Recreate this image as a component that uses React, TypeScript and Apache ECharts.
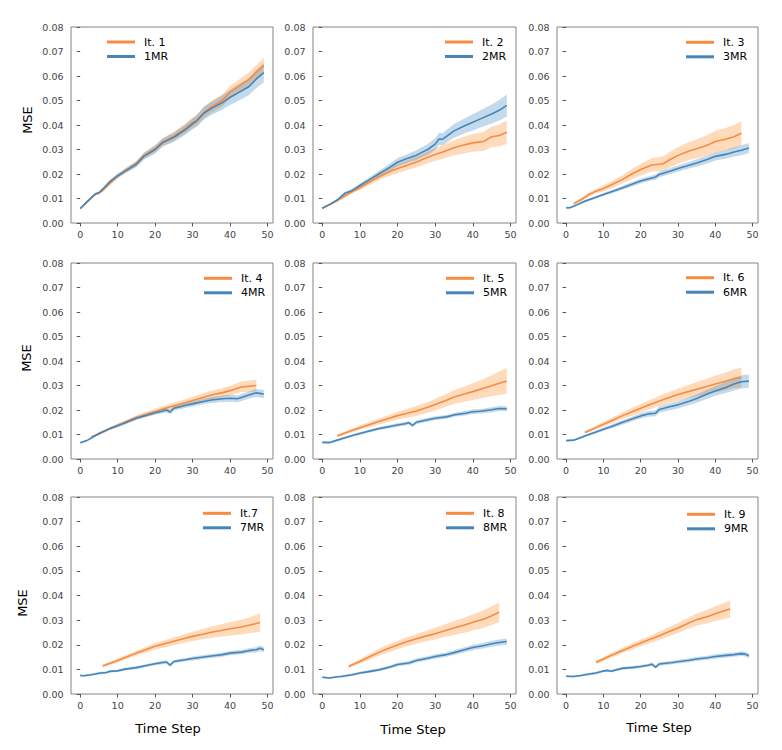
import React, { useEffect, useRef } from "react";
import * as echarts from "echarts";

const FONT = "DejaVu Sans";
const ORANGE = "#f68c42";
const BLUE = "#4785b9";
const ORANGE_BAND = "rgba(255,127,14,0.28)";
const BLUE_BAND = "rgba(31,119,180,0.27)";

const xTicks = [0, 10, 20, 30, 40, 50];
const itLabels = ["It. 1", "It. 2", "It. 3", "It. 4", "It. 5", "It. 6", "It.7", "It. 8", "It. 9"];
const mrLabels = ["1MR", "2MR", "3MR", "4MR", "5MR", "6MR", "7MR", "8MR", "9MR"];

const itSteps = [
  [0, 2, 4, 5, 6, 8, 10, 12, 15, 17, 20, 22, 25, 28, 30, 31, 33, 35, 38, 40, 42, 45, 47, 49],
  [0, 2, 4, 6, 8, 10, 12, 15, 18, 20, 22, 25, 28, 30, 32, 35, 38, 40, 42, 43, 45, 47, 49],
  [2, 4, 6, 8, 10, 12, 15, 18, 20, 23, 25, 26, 28, 30, 33, 35, 38, 40, 43, 45, 47],
  [3, 5, 8, 10, 12, 15, 18, 20, 22, 25, 28, 30, 33, 35, 38, 40, 43, 45, 47],
  [4, 5, 8, 10, 12, 15, 18, 20, 22, 25, 28, 30, 33, 35, 38, 40, 43, 45, 47, 49],
  [5, 8, 10, 12, 15, 18, 20, 22, 25, 28, 30, 33, 35, 38, 40, 43, 45, 47],
  [6, 8, 10, 12, 15, 18, 20, 22, 25, 28, 30, 33, 35, 38, 40, 43, 45, 48],
  [7, 8, 10, 12, 15, 18, 20, 22, 25, 28, 30, 33, 35, 38, 40, 43, 45, 47],
  [8, 10, 12, 15, 18, 20, 22, 25, 28, 30, 33, 35, 38, 40, 42, 44],
];
const itMeans = [
  [0.0059, 0.0088, 0.0117, 0.0122, 0.0133, 0.0163, 0.019, 0.0213, 0.0243, 0.0275, 0.0303, 0.033, 0.0354, 0.0385, 0.041, 0.0418, 0.045, 0.0474, 0.0502, 0.0533, 0.0555, 0.0585, 0.0615, 0.0642],
  [0.006, 0.0075, 0.0092, 0.011, 0.0128, 0.0144, 0.0162, 0.0188, 0.021, 0.0222, 0.0233, 0.0249, 0.0268, 0.028, 0.029, 0.0307, 0.032, 0.0327, 0.0331, 0.0334, 0.0352, 0.0357, 0.037],
  [0.0079, 0.0095, 0.0115, 0.013, 0.0141, 0.0155, 0.0177, 0.0203, 0.0218, 0.0237, 0.024, 0.0242, 0.026, 0.0276, 0.0294, 0.0303, 0.0318, 0.0333, 0.0343, 0.0352, 0.0366],
  [0.0091, 0.0102, 0.0124, 0.0138, 0.015, 0.017, 0.0185, 0.0194, 0.0204, 0.0217, 0.023, 0.0239, 0.0252, 0.0261, 0.0271, 0.0279, 0.0294, 0.0297, 0.03],
  [0.0095, 0.01, 0.0117, 0.0128, 0.0138, 0.0153, 0.0167, 0.0177, 0.0185, 0.0196, 0.0211, 0.0222, 0.024, 0.0253, 0.0266, 0.0275, 0.029, 0.0299, 0.0309, 0.0318],
  [0.0108, 0.0128, 0.0142, 0.0155, 0.0176, 0.0195, 0.0207, 0.0219, 0.0237, 0.0253, 0.0263, 0.0276, 0.0285, 0.0297, 0.0306, 0.0318, 0.0328, 0.0333],
  [0.0114, 0.0125, 0.0136, 0.0148, 0.0166, 0.0183, 0.0194, 0.0202, 0.0214, 0.0226, 0.0234, 0.0244, 0.0251, 0.0259, 0.0265, 0.0272, 0.0279, 0.029],
  [0.0112, 0.0119, 0.0132, 0.0147, 0.0169, 0.0188, 0.0199, 0.021, 0.0224, 0.0237, 0.0245, 0.0259, 0.0268, 0.0281, 0.0291, 0.0305, 0.0318, 0.0332],
  [0.0129, 0.0142, 0.0156, 0.0176, 0.0195, 0.0207, 0.0219, 0.0237, 0.0256, 0.0268, 0.0289, 0.0302, 0.0315, 0.0326, 0.0336, 0.0345],
];
const itSpreads = [
  [0.0003, 0.0004, 0.0005, 0.0005, 0.0006, 0.0007, 0.0008, 0.0009, 0.0011, 0.0013, 0.0015, 0.0016, 0.0018, 0.002, 0.0021, 0.0022, 0.0023, 0.0024, 0.0025, 0.0026, 0.0027, 0.0029, 0.003, 0.0032],
  [0.0003, 0.0004, 0.0005, 0.0006, 0.0008, 0.0009, 0.0011, 0.0014, 0.0017, 0.0019, 0.002, 0.0022, 0.0024, 0.0026, 0.0028, 0.0031, 0.0034, 0.0036, 0.0038, 0.0039, 0.0042, 0.0045, 0.0048],
  [0.0005, 0.0007, 0.0009, 0.001, 0.0012, 0.0014, 0.0017, 0.0021, 0.0024, 0.0027, 0.0029, 0.003, 0.0032, 0.0034, 0.0037, 0.0039, 0.0042, 0.0044, 0.0046, 0.0048, 0.005],
  [0.0005, 0.0005, 0.0006, 0.0007, 0.0008, 0.0009, 0.001, 0.0011, 0.0012, 0.0013, 0.0014, 0.0015, 0.0017, 0.0018, 0.0019, 0.002, 0.0022, 0.0023, 0.0024],
  [0.0006, 0.0006, 0.0008, 0.0009, 0.001, 0.0012, 0.0014, 0.0016, 0.0018, 0.002, 0.0022, 0.0024, 0.0026, 0.0028, 0.0031, 0.0034, 0.0039, 0.0043, 0.0048, 0.0053],
  [0.0006, 0.0008, 0.001, 0.0011, 0.0013, 0.0016, 0.0018, 0.0019, 0.0021, 0.0023, 0.0025, 0.0027, 0.0029, 0.0032, 0.0034, 0.0036, 0.0038, 0.004],
  [0.0006, 0.0007, 0.0008, 0.0009, 0.001, 0.0012, 0.0013, 0.0014, 0.0016, 0.0018, 0.0019, 0.0021, 0.0023, 0.0025, 0.0027, 0.003, 0.0032, 0.0037],
  [0.0006, 0.0007, 0.0009, 0.0011, 0.0014, 0.0016, 0.0017, 0.0018, 0.002, 0.0022, 0.0024, 0.0026, 0.0028, 0.0031, 0.0033, 0.0036, 0.0038, 0.004],
  [0.0007, 0.0008, 0.0009, 0.0011, 0.0013, 0.0014, 0.0015, 0.0017, 0.0019, 0.002, 0.0023, 0.0025, 0.0028, 0.003, 0.0032, 0.0035],
];

const mrSteps = [
  [0, 2, 4, 5, 6, 8, 10, 12, 15, 17, 20, 22, 25, 28, 30, 31, 33, 35, 38, 40, 42, 45, 47, 49],
  [0, 2, 4, 5, 6, 8, 10, 12, 15, 18, 20, 22, 25, 28, 30, 31, 32, 35, 38, 40, 42, 45, 47, 49],
  [0, 1, 3, 5, 8, 10, 12, 15, 18, 20, 22, 24, 25, 28, 30, 33, 35, 38, 40, 43, 45, 47, 49],
  [0, 2, 4, 5, 8, 10, 12, 15, 18, 20, 22, 23, 24, 25, 28, 30, 33, 35, 38, 40, 42, 45, 47, 49],
  [0, 2, 4, 5, 8, 10, 12, 15, 18, 20, 22, 23, 24, 25, 28, 30, 33, 35, 38, 40, 42, 45, 47, 49],
  [0, 2, 4, 5, 8, 10, 12, 15, 18, 20, 22, 24, 25, 28, 30, 33, 35, 38, 40, 43, 45, 47, 49],
  [0, 1, 3, 5, 7, 8, 10, 12, 15, 18, 20, 22, 23, 24, 25, 28, 30, 33, 35, 38, 40, 43, 45, 47, 48, 49],
  [0, 2, 4, 5, 8, 10, 12, 15, 18, 20, 22, 23, 25, 28, 30, 33, 35, 38, 40, 43, 45, 47, 49],
  [0, 2, 4, 5, 8, 10, 11, 12, 15, 18, 20, 22, 23, 24, 25, 28, 30, 33, 35, 38, 40, 43, 45, 47, 48, 49],
];
const mrMeans = [
  [0.0059, 0.0089, 0.0118, 0.0123, 0.0138, 0.017, 0.0193, 0.0212, 0.024, 0.0272, 0.03, 0.0328, 0.035, 0.038, 0.0405, 0.0415, 0.0448, 0.0468, 0.0492, 0.0513, 0.053, 0.0556, 0.0588, 0.0614],
  [0.006, 0.0076, 0.0094, 0.0108, 0.0121, 0.0133, 0.0153, 0.0172, 0.02, 0.0228, 0.0248, 0.026, 0.0277, 0.03, 0.0322, 0.0343, 0.0342, 0.0376, 0.0398, 0.0411, 0.0425, 0.0445, 0.046, 0.048],
  [0.0062, 0.0062, 0.0075, 0.0089, 0.0105, 0.0116, 0.0127, 0.0143, 0.016, 0.0171, 0.018, 0.0188, 0.0198, 0.0212, 0.0222, 0.0236, 0.0245, 0.026, 0.0272, 0.0281, 0.029, 0.0297, 0.0306],
  [0.0066, 0.0077, 0.0095, 0.0104, 0.0125, 0.0136, 0.0148, 0.0166, 0.018, 0.0189, 0.0196, 0.02, 0.0192, 0.0207, 0.0218, 0.0225, 0.0235, 0.0241, 0.0246, 0.0248, 0.0246, 0.0261, 0.027, 0.0265],
  [0.0068, 0.0067, 0.0077, 0.0082, 0.0096, 0.0104, 0.0112, 0.0124, 0.0133, 0.0139, 0.0144, 0.0148, 0.0137, 0.015, 0.016, 0.0166, 0.0172, 0.018, 0.0187, 0.0193, 0.0195, 0.0201, 0.0206, 0.0205],
  [0.0075, 0.0077, 0.0088, 0.0094, 0.011, 0.0121, 0.0132, 0.0149, 0.0165, 0.0176, 0.0184, 0.0187, 0.0202, 0.0214, 0.0221, 0.0236, 0.0247, 0.0266, 0.0278, 0.0293, 0.0306, 0.0315, 0.0318],
  [0.0075, 0.0074, 0.0078, 0.0084, 0.0087, 0.0092, 0.0094, 0.0101, 0.0107, 0.0117, 0.0123, 0.0128, 0.013, 0.0117, 0.0132, 0.0139, 0.0144, 0.015, 0.0154, 0.016, 0.0166, 0.017, 0.0176, 0.018, 0.0186, 0.018],
  [0.0068, 0.0065, 0.007, 0.0071, 0.0078, 0.0085, 0.009, 0.0098, 0.011, 0.012, 0.0124, 0.0126, 0.0136, 0.0145, 0.0152, 0.016, 0.0168, 0.0181, 0.0189, 0.0197, 0.0204, 0.0209, 0.0213],
  [0.0072, 0.0071, 0.0075, 0.0078, 0.0085, 0.0093, 0.0096, 0.0092, 0.0104, 0.0108, 0.0112, 0.0117, 0.0121, 0.0109, 0.0122, 0.0127, 0.0131, 0.0137, 0.0142, 0.0147, 0.0152, 0.0157, 0.016, 0.0164, 0.0162, 0.0155],
];
const mrSpreads = [
  [0.0003, 0.0004, 0.0005, 0.0005, 0.0006, 0.0008, 0.0009, 0.001, 0.0012, 0.0014, 0.0016, 0.0017, 0.0019, 0.0021, 0.0023, 0.0024, 0.0026, 0.0027, 0.0029, 0.0031, 0.0033, 0.0035, 0.0037, 0.0039],
  [0.0003, 0.0004, 0.0005, 0.0005, 0.0006, 0.0007, 0.0008, 0.001, 0.0012, 0.0015, 0.0017, 0.0018, 0.002, 0.0022, 0.0024, 0.0025, 0.0025, 0.0028, 0.0031, 0.0033, 0.0035, 0.0039, 0.0042, 0.0045],
  [0.0004, 0.0004, 0.0005, 0.0005, 0.0006, 0.0006, 0.0007, 0.0008, 0.0009, 0.001, 0.001, 0.0011, 0.0011, 0.0012, 0.0013, 0.0014, 0.0015, 0.0016, 0.0017, 0.0018, 0.0019, 0.002, 0.0021],
  [0.0003, 0.0004, 0.0004, 0.0005, 0.0006, 0.0006, 0.0007, 0.0007, 0.0008, 0.0008, 0.0009, 0.0009, 0.0009, 0.001, 0.001, 0.0011, 0.0011, 0.0012, 0.0013, 0.0014, 0.0014, 0.0015, 0.0016, 0.0017],
  [0.0004, 0.0004, 0.0005, 0.0005, 0.0005, 0.0006, 0.0006, 0.0006, 0.0007, 0.0007, 0.0007, 0.0007, 0.0007, 0.0007, 0.0008, 0.0008, 0.0008, 0.0008, 0.0009, 0.0009, 0.0009, 0.001, 0.001, 0.001],
  [0.0004, 0.0004, 0.0005, 0.0005, 0.0006, 0.0007, 0.0008, 0.0009, 0.001, 0.0011, 0.0012, 0.0012, 0.0013, 0.0014, 0.0015, 0.0016, 0.0017, 0.0019, 0.002, 0.0023, 0.0026, 0.0027, 0.0027],
  [0.0004, 0.0004, 0.0004, 0.0005, 0.0005, 0.0005, 0.0005, 0.0006, 0.0006, 0.0006, 0.0006, 0.0007, 0.0007, 0.0007, 0.0007, 0.0007, 0.0008, 0.0008, 0.0008, 0.0009, 0.0009, 0.0009, 0.001, 0.001, 0.0011, 0.0011],
  [0.0004, 0.0004, 0.0004, 0.0005, 0.0005, 0.0005, 0.0006, 0.0006, 0.0007, 0.0007, 0.0007, 0.0008, 0.0008, 0.0008, 0.0009, 0.0009, 0.001, 0.001, 0.0011, 0.0011, 0.0012, 0.0012, 0.0013],
  [0.0004, 0.0004, 0.0004, 0.0005, 0.0005, 0.0005, 0.0005, 0.0005, 0.0006, 0.0006, 0.0006, 0.0006, 0.0007, 0.0007, 0.0007, 0.0007, 0.0007, 0.0008, 0.0008, 0.0008, 0.0009, 0.0009, 0.0009, 0.001, 0.001, 0.001],
];

// layout (pixels)
const colBoxes = [
  { left: 71, width: 202 },
  { left: 313, width: 203 },
  { left: 557, width: 201 },
];
const rowBoxes = [
  { top: 27, height: 196 },
  { top: 263, height: 196 },
  { top: 497, height: 197 },
];
const legendLeft = [107, 445, 686, 204, 446, 686, 203, 446, 687];
const legendRowY = [42, 42, 42.3, 278.3, 278.3, 277.7, 513.3, 513.3, 514.3];
const yLabelPos = [
  [27.7, 120],
  [26.7, 358],
  [22.7, 603],
];
const xLabelPos = [
  [168, 728],
  [413, 729],
  [659, 727],
];
const LEGEND_ROW = 14.5;

function bandSeries(name: string, axis: number, xs: number[], mean: number[], spread: number[], color: string) {
  const n = Math.min(xs.length, mean.length, spread.length);
  const rows: number[][] = [];
  for (let k = 0; k < n; k++) rows.push([xs[k], mean[k] - spread[k], mean[k] + spread[k]]);
  return {
    type: "custom",
    name,
    xAxisIndex: axis,
    yAxisIndex: axis,
    silent: true,
    z: 1,
    encode: { x: 0, y: [1, 2] },
    data: rows,
    renderItem: (params: any, api: any) => {
      if (params.dataIndex !== 0) return null;
      const upper = rows.map((r) => api.coord([r[0], r[2]]));
      const lower = rows.map((r) => api.coord([r[0], r[1]])).reverse();
      return {
        type: "polygon",
        shape: { points: upper.concat(lower) },
        style: { fill: color, stroke: "none" },
      };
    },
  };
}

function buildOption() {
  const grid: any[] = [];
  const xAxis: any[] = [];
  const yAxis: any[] = [];
  const legend: any[] = [];
  const series: any[] = [];

  for (let i = 0; i < 9; i++) {
    const r = Math.floor(i / 3);
    const c = i % 3;
    grid.push({
      left: colBoxes[c].left,
      width: colBoxes[c].width,
      top: rowBoxes[r].top,
      height: rowBoxes[r].height,
      show: true,
      borderColor: "#848484",
      borderWidth: 1,
      backgroundColor: "transparent",
      containLabel: false,
    });
    xAxis.push({
      gridIndex: i,
      type: "value",
      min: -2.45,
      max: 51.45,
      splitLine: { show: false },
      axisLine: { show: false },
      axisTick: { show: true, length: 3.5, lineStyle: { color: "#555", width: 1 }, customValues: xTicks },
      axisLabel: { customValues: xTicks, fontSize: 9.5, color: "#444", margin: 6, fontFamily: FONT },
    });
    yAxis.push({
      gridIndex: i,
      type: "value",
      min: 0,
      max: 0.08,
      interval: 0.01,
      splitLine: { show: false },
      axisLine: { show: false },
      axisTick: { show: true, length: 3.5, lineStyle: { color: "#555", width: 1 } },
      axisLabel: {
        fontSize: 9.5,
        color: "#444",
        margin: 7.5,
        fontFamily: FONT,
        formatter: (v: number) => v.toFixed(2),
      },
    });
    legend.push({
      orient: "vertical",
      left: legendLeft[i],
      top: legendRowY[i] - LEGEND_ROW / 2,
      padding: 0,
      itemGap: 0,
      itemWidth: 28,
      itemHeight: 3,
      icon: "rect",
      selectedMode: false,
      data: [itLabels[i], mrLabels[i]],
      textStyle: {
        fontSize: 11,
        color: "#000",
        fontFamily: FONT,
        lineHeight: LEGEND_ROW,
        padding: [0, 0, 0, 4],
      },
    });

    series.push(bandSeries(itLabels[i] + " band", i, itSteps[i], itMeans[i], itSpreads[i], ORANGE_BAND));
    series.push(bandSeries(mrLabels[i] + " band", i, mrSteps[i], mrMeans[i], mrSpreads[i], BLUE_BAND));

    const groups = [
      { name: itLabels[i], xs: itSteps[i], mean: itMeans[i], color: ORANGE },
      { name: mrLabels[i], xs: mrSteps[i], mean: mrMeans[i], color: BLUE },
    ];
    for (const g of groups) {
      const n = Math.min(g.xs.length, g.mean.length);
      const pts: number[][] = [];
      for (let k = 0; k < n; k++) pts.push([g.xs[k], g.mean[k]]);
      series.push({
        type: "line",
        name: g.name,
        xAxisIndex: i,
        yAxisIndex: i,
        data: pts,
        symbol: "none",
        lineStyle: { color: g.color, width: 1.6 },
        itemStyle: { color: g.color },
        z: 3,
      });
    }
  }

  const graphic: any[] = [];
  for (const [x, y] of yLabelPos) {
    graphic.push({
      type: "text",
      x,
      y,
      rotation: Math.PI / 2,
      style: {
        text: "MSE",
        fontSize: 13,
        fontFamily: FONT,
        fill: "#000",
        align: "center",
        verticalAlign: "middle",
        textAlign: "center",
        textVerticalAlign: "middle",
      },
    });
  }
  for (const [x, y] of xLabelPos) {
    graphic.push({
      type: "text",
      x,
      y,
      style: {
        text: "Time Step",
        fontSize: 13,
        fontFamily: FONT,
        fill: "#000",
        align: "center",
        verticalAlign: "middle",
        textAlign: "center",
        textVerticalAlign: "middle",
      },
    });
  }

  return {
    animation: false,
    backgroundColor: "#fff",
    grid,
    xAxis,
    yAxis,
    legend,
    series,
    graphic,
  };
}

export default function App() {
  const ref = useRef<HTMLDivElement>(null);
  useEffect(() => {
    if (!ref.current) return;
    const chart = echarts.init(ref.current, null, { renderer: "svg" });
    chart.setOption(buildOption());
    return () => chart.dispose();
  }, []);
  return (
    <div
      ref={ref}
      style={{ position: "absolute", left: 0, top: 0, width: 782, height: 750 }}
    />
  );
}
